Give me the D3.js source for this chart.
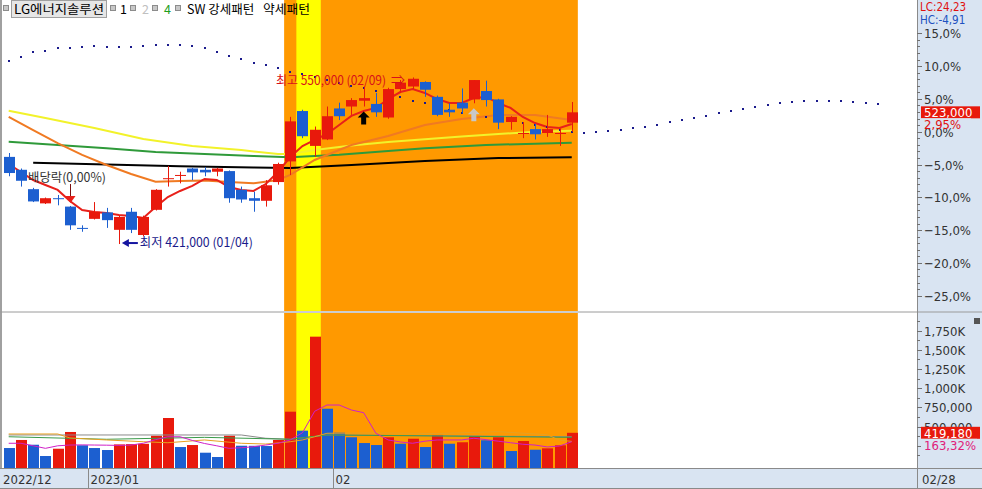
<!DOCTYPE html>
<html><head><meta charset="utf-8">
<script src="https://cdn.jsdelivr.net/npm/d3@7"></script>
<style>body{margin:0;background:#fff;overflow:hidden} svg{display:block}</style>
</head><body>
<svg id="c" width="982" height="489"></svg>
<script>
// ---------------- DATA ----------------
const dates = ["2022-12-21","2022-12-22","2022-12-23","2022-12-26","2022-12-27","2022-12-28","2022-12-29",
"2023-01-02","2023-01-03","2023-01-04","2023-01-05","2023-01-06","2023-01-09","2023-01-10","2023-01-11","2023-01-12","2023-01-13",
"2023-01-16","2023-01-17","2023-01-18","2023-01-19","2023-01-20","2023-01-25","2023-01-26","2023-01-27","2023-01-30","2023-01-31",
"2023-02-01","2023-02-02","2023-02-03","2023-02-06","2023-02-07","2023-02-08","2023-02-09","2023-02-10","2023-02-13","2023-02-14",
"2023-02-15","2023-02-16","2023-02-17","2023-02-20","2023-02-21","2023-02-22","2023-02-23","2023-02-24","2023-02-27","2023-02-28"];
const open  = [488500,478500,463500,452500,456500,450000,433500,440500,445500,432000,446000,428000,447500,471500,474000,479500,478500,477000,477500,463000,456500,454500,469000,485000,524000,497000,502000,526000,527500,532000,529500,519000,541000,543000,546500,535000,525000,530500,533000,539500,533000,515500,506500,510000,507000,506500,515000];
const high  = [491500,479500,464500,457000,459000,450500,435500,453500,449000,443500,449000,443000,463500,481500,477000,480000,480500,480000,478000,465500,461500,470500,484000,519500,525000,512000,527500,530500,534000,543000,538000,542000,548000,550000,547000,536000,530000,541500,548000,547500,533500,520000,515500,514000,521000,510500,531000];
const low   = [473500,465500,453500,452000,451000,432000,430500,440000,433500,421000,429500,427000,447000,465500,468000,470500,473500,473500,453000,453000,446000,450000,467000,474500,503000,488500,501500,517000,521000,527500,519500,518000,538000,541000,535000,520000,519500,522000,530000,527500,510000,509500,503000,502000,504000,497000,508000];
const close = [476000,470000,454000,456500,456000,435500,433000,446000,439500,442000,432000,442000,463000,472000,474500,476500,476500,479500,456500,455500,454500,466500,483000,516000,504500,509500,520000,520000,532500,534000,523000,541000,546000,549000,540500,521000,523000,526000,548000,532500,515000,519500,507000,506000,510000,507000,523000];
const volume = [221000,326000,264000,117000,212000,430000,257000,221000,195000,268000,272000,276000,381000,612000,234000,260000,160000,104000,381000,251000,250000,247000,326000,694000,447000,1671000,733000,421000,361000,286000,260000,361000,277000,342000,234000,391000,277000,296000,378000,322000,361000,182000,312000,199000,217000,256660,419180];

// price moving averages
const ma5 = [483000,476800,470600,466700,462900,454300,447400,445800,445000,443500,442700,441200,449700,457400,462100,466000,471400,470600,465200,462900,462100,467500,476800,488400,496900,501600,506200,513200,520200,524000,526400,533300,538700,541100,538000,533300,530200,530200,534100,534900,530200,526400,519400,514700,511600,510900,514000];
const maOrangeIdx = [0,2,4,6,8,10,12,14,16,18,20,22,23,25,28,31,34,37,40,43,46];
const maOrangeVal = [519400,509300,499200,490000,482200,475200,469300,469800,470200,469000,468000,470600,474500,486100,497700,504700,513200,517800,520900,520900,517100];
const maYellowIdx = [0,3,7,11,15,19,22,23,25,28,31,34,37,40,43,46];
const maYellowVal = [524300,518600,510900,502300,496900,493800,490700,490700,493800,497300,500000,502100,504300,506200,508000,508800];
const maGreenIdx = [0,4,8,12,16,20,23,27,31,34,39,46];
const maGreenVal = [500300,497700,495100,492300,490700,489200,488200,490200,493100,495100,497700,499500];
const maBlackIdx = [2,8,14,20,23,28,34,40,46];
const maBlackVal = [484000,482600,481200,480300,479900,482200,485300,487600,488200];
// dotted projection line (index 0..71)
const dotVal = [562500,565500,569500,570500,572500,572500,573500,574000,573500,573500,573500,574500,575500,575000,575000,574500,572500,569500,567000,564000,561500,559500,557500,554500,552500,550500,548000,545500,543500,541500,539500,537000,534500,532000,530000,527500,525000,522500,521000,519000,517500,516500,515000,513000,511500,509500,508000,507000,508000,508500,509500,511000,511500,513000,515500,517000,518500,520000,522500,524000,525500,527000,528500,530000,531000,532000,532000,532000,532000,531000,530000,529500];
// volume moving averages
const vma5 = [283000,283000,250000,217000,250000,260000,262000,260000,258000,255000,260000,283000,330000,368000,368000,320000,280000,250000,217000,225000,238000,260000,283000,326000,420000,700000,781000,781000,716000,681000,413000,326000,300000,283000,310000,326000,326000,326000,348000,330000,310000,290000,270000,260000,235000,247000,303000];
const vma20Idx = [0,4,5,8,11,13,16,19,21,23,24,25,26,30,35,40,44,45,46];
const vma20Val = [404000,404000,352000,326000,303000,290000,326000,283000,273000,303000,326000,368000,413000,418000,410000,434000,394000,323000,308000];
const vma60Idx = [0,8,16,23,26,35,46];
const vma60Val = [368000,335000,360000,335000,391000,378000,360000];
const vma120Idx = [0,19,21,23,26,46];
const vma120Val = [391000,391000,348000,335000,391000,368000];

const basePrice = 508000;
const pctTicks = [15,10,5,0,-5,-10,-15,-20,-25];
const volTicks = [1750000,1500000,1250000,1000000,750000,500000];
const volTickLabels = ["1,750K","1,500K","1,250K","1,000K","750,000","500,000"];
const highlightRange = [23,46];   // orange zone
const signalRange = [24,25];      // yellow zone
const lowIdx = 9, highIdx = 33, exDivIdx = 5;
const upArrows = [{i:29,color:"#000000"},{i:38,color:"#c8c8c8"}];
const legendItems = [{t:"1",c:"#000"},{t:"2",c:"#c0c0c0"},{t:"4",c:"#1e9e1e"},{t:"SW 강세패턴",c:"#000"}];

// ---------------- LAYOUT ----------------
const svg = d3.select("#c");
const plotL=2, plotR=917, priceTop=0, priceBot=311, volTop=313, volBot=468;
const RED="#e8190c", BLUE="#1c5fd0";
const KF="'Noto Sans CJK KR','Noto Sans',sans-serif";
const NF="'Liberation Sans Narrow','DejaVu Sans Condensed','Liberation Sans',sans-serif";
const N = close.length;

const x = d3.scaleLinear().domain([0,1]).range([8.7,20.94]);
const bw = 11;
const yP = d3.scaleLinear().domain([basePrice*0.75, basePrice*1.15]).range([295.7,33.3]);
const yV = d3.scaleLinear().domain([0,1750000]).range([465,330.6]);

// backgrounds
svg.append("rect").attr("x",0).attr("y",0).attr("width",982).attr("height",489).attr("fill","#fff");
const axBg="#d9e4f2";
svg.append("rect").attr("x",plotR).attr("y",0).attr("width",982-plotR).attr("height",volBot).attr("fill",axBg);
svg.append("rect").attr("x",0).attr("y",volBot).attr("width",982).attr("height",489-volBot).attr("fill",axBg);
svg.append("rect").attr("x",0).attr("y",0).attr("width",2).attr("height",volBot).attr("fill","#a0a0a0");

const hx0 = x(highlightRange[0])-bw/2-0.6, hx1 = x(highlightRange[1])+bw/2+0.6;
const sx0 = x(signalRange[0])-bw/2-0.6, sx1 = x(signalRange[1])+bw/2+0.6;
[[priceTop,priceBot],[volTop,volBot]].forEach(([a,b])=>{
  svg.append("rect").attr("x",hx0).attr("y",a).attr("width",hx1-hx0).attr("height",b-a).attr("fill","#ff9900");
  svg.append("rect").attr("x",sx0).attr("y",a).attr("width",sx1-sx0).attr("height",b-a).attr("fill","#ffff00");
});
// panel separator
svg.append("line").attr("x1",0).attr("x2",982).attr("y1",312).attr("y2",312).attr("stroke","#9a9a9a");
svg.append("line").attr("x1",plotR+0.5).attr("x2",plotR+0.5).attr("y1",0).attr("y2",489).attr("stroke","#8a8a8a");
svg.append("line").attr("x1",0).attr("x2",982).attr("y1",volBot+0.5).attr("y2",volBot+0.5).attr("stroke","#8a8a8a");
svg.append("line").attr("x1",0).attr("x2",982).attr("y1",488.5).attr("y2",488.5).attr("stroke","#8a8a8a");

// ---------------- PRICE PANEL ----------------
const g = svg.append("g");
const lineP = d3.line().x(d=>x(d[0])).y(d=>yP(d[1]));
const pairs = (idx,val)=>idx.map((k,j)=>[k,val[j]]);
g.append("path").attr("d",lineP(pairs(maBlackIdx,maBlackVal))).attr("fill","none").attr("stroke","#000").attr("stroke-width",2);
g.append("path").attr("d",lineP(pairs(maGreenIdx,maGreenVal))).attr("fill","none").attr("stroke","#2f9a3a").attr("stroke-width",2);
g.append("path").attr("d",lineP(pairs(maYellowIdx,maYellowVal))).attr("fill","none").attr("stroke","#f2f22a").attr("stroke-width",2);
g.append("path").attr("d",lineP(pairs(maOrangeIdx,maOrangeVal))).attr("fill","none").attr("stroke","#f07a22").attr("stroke-width",2);
g.append("path").attr("d",lineP(ma5.map((v,i)=>[i,v]))).attr("fill","none").attr("stroke","#e8201a").attr("stroke-width",2);

// dotted projection
g.selectAll("rect.dot").data(dotVal).join("rect").attr("class","dot")
  .attr("x",(d,i)=>Math.round(x(i))-1).attr("y",d=>Math.round(yP(d))-1).attr("width",2).attr("height",2).attr("fill","#1a1a8c");

// candles
const idx = d3.range(N);
const cg = g.selectAll("g.candle").data(idx).join("g").attr("class","candle");
cg.each(function(i){
  const s = d3.select(this);
  const up = close[i] >= open[i];
  const col = up ? RED : BLUE;
  const cx = Math.round(x(i))+0.5;
  s.append("line").attr("x1",cx).attr("x2",cx).attr("y1",yP(high[i])).attr("y2",yP(low[i])).attr("stroke",col);
  const top = yP(Math.max(open[i],close[i])), bot = yP(Math.min(open[i],close[i]));
  s.append("rect").attr("x",Math.round(x(i))-5).attr("width",bw).attr("y",top).attr("height",Math.max(1,bot-top)).attr("fill",col);
});

// up arrows
upArrows.forEach(a=>{
  const cx = x(a.i), ty = yP(low[a.i]) + 5;
  const p = [[cx,ty],[cx+6,ty+6],[cx+2.5,ty+6],[cx+2.5,ty+13],[cx-2.5,ty+13],[cx-2.5,ty+6],[cx-6,ty+6]];
  g.append("path").attr("d","M"+p.map(q=>q.join(",")).join("L")+"Z").attr("fill",a.color);
});

// ex-dividend annotation
{
  const cx = Math.round(x(exDivIdx))+0.5;
  g.append("text").attr("x",28).attr("y",182).attr("font-family",KF).attr("font-size",12.5).attr("fill","#333")
    .attr("textLength",78).attr("lengthAdjust","spacingAndGlyphs").text("배당락(0,00%)");
  g.append("line").attr("x1",cx).attr("x2",cx).attr("y1",184).attr("y2",197).attr("stroke","#7a1010");
  g.append("path").attr("d",`M${cx-5},196L${cx+5},196L${cx},203Z`).attr("fill","#e8201a");
}
// lowest annotation
{
  const ly = yP(low[lowIdx]);
  const ax0 = x(lowIdx)+3;
  g.append("line").attr("x1",ax0+4).attr("x2",ax0+16).attr("y1",ly-1).attr("y2",ly-1).attr("stroke","#1414a0").attr("stroke-width",2);
  g.append("path").attr("d",`M${ax0},${ly-1}L${ax0+7},${ly-5}L${ax0+7},${ly+3}Z`).attr("fill","#1414a0");
  g.append("text").attr("x",ax0+18).attr("y",ly+3).attr("font-family",KF).attr("font-size",12.5).attr("fill","#1a1a8a")
    .attr("textLength",113).attr("lengthAdjust","spacingAndGlyphs").text("최저 421,000 (01/04)");
}
// highest annotation
{
  const hy = yP(high[highIdx]);
  g.append("text").attr("x",276).attr("y",hy+8).attr("font-family",KF).attr("font-size",12.5).attr("fill","#d8101a")
    .attr("textLength",110).attr("lengthAdjust","spacingAndGlyphs").text("최고 550,000 (02/09)");
  g.append("text").attr("x",391).attr("y",hy+8).attr("font-family",KF).attr("font-size",14).attr("fill","#d8101a").text("⇒");
}

// ---------------- VOLUME PANEL ----------------
const lineV = d3.line().x(d=>x(d[0])).y(d=>yV(d[1]));
g.selectAll("rect.vol").data(volume).join("rect").attr("class","vol")
  .attr("x",(d,i)=>Math.round(x(i))-5).attr("width",bw)
  .attr("y",d=>yV(d)).attr("height",d=>volBot-yV(d))
  .attr("fill",(d,i)=> i>0 && d>volume[i-1] ? RED : BLUE);
g.append("path").attr("d",lineV(pairs(vma120Idx,vma120Val))).attr("fill","none").attr("stroke","#8a8a8a").attr("stroke-width",1);
g.append("path").attr("d",lineV(pairs(vma60Idx,vma60Val))).attr("fill","none").attr("stroke","#3a9a4a").attr("stroke-width",1);
g.append("path").attr("d",lineV(pairs(vma20Idx,vma20Val))).attr("fill","none").attr("stroke","#e8a020").attr("stroke-width",1);
g.append("path").attr("d",lineV(vma5.map((v,i)=>[i,v]))).attr("fill","none").attr("stroke","#d020c8").attr("stroke-width",1);

// ---------------- LEGEND ----------------
const lg = svg.append("g").attr("font-family",KF).attr("font-size",12.5);
const sq = (xx)=>lg.append("rect").attr("x",xx+0.5).attr("y",5.5).attr("width",5).attr("height",5).attr("fill","#c8c8c8").attr("stroke","#8c8c8c");
sq(3);
lg.append("rect").attr("x",11.5).attr("y",0.5).attr("width",95).attr("height",17).attr("fill","#e6e6e6").attr("stroke","#a0a0a0");
lg.append("text").attr("x",14).attr("y",14).attr("fill","#000").attr("textLength",90).attr("lengthAdjust","spacingAndGlyphs").text("LG에너지솔루션");
const lx = [110,130,152,175];
const tx = [120,142,164,187];
legendItems.forEach((it,k)=>{ sq(lx[k]); lg.append("text").attr("x",tx[k]).attr("y",14).attr("fill",it.c).text(it.t); });
lg.append("text").attr("x",263).attr("y",14).attr("fill","#000").attr("textLength",47).attr("lengthAdjust","spacingAndGlyphs").text("약세패턴");

// ---------------- RIGHT AXIS ----------------
const ax = svg.append("g").attr("font-family",NF).attr("font-size",13);
d3.range(-25,16,1).forEach(p=>{
  const yy = Math.round(yP(basePrice*(1+p/100)))+0.5;
  ax.append("line").attr("x1",plotR).attr("x2",plotR+(p%5===0?5:3)).attr("y1",yy).attr("y2",yy).attr("stroke","#707070");
});
pctTicks.forEach(p=>{
  ax.append("text").attr("x",924).attr("y",yP(basePrice*(1+p/100))+5).attr("fill","#333")
    .text(d3.format(".1f")(p).replace(".",",")+"%");
});
d3.range(125000,1875001,125000).forEach(v=>{
  const yy = Math.round(yV(v))+0.5;
  if (yy<volTop+2) return;
  ax.append("line").attr("x1",plotR).attr("x2",plotR+(v%250000===0?5:3)).attr("y1",yy).attr("y2",yy).attr("stroke","#707070");
});
volTicks.forEach((v,k)=>{
  ax.append("text").attr("x",924).attr("y",yV(v)+5).attr("fill","#333").text(volTickLabels[k]);
});
// info labels
ax.append("text").attr("x",920).attr("y",11).attr("font-size",11.5).attr("fill","#e01010").text("LC:24,23");
ax.append("text").attr("x",920).attr("y",24).attr("font-size",11.5).attr("fill","#2050c0").text("HC:-4,91");
const lastY = yP(close[N-1]);
ax.append("rect").attr("x",921).attr("y",lastY-6).attr("width",59).attr("height",12).attr("fill","#e8190c");
ax.append("text").attr("x",924).attr("y",lastY+5).attr("fill","#fff").text(d3.format(",")(close[N-1]));
ax.append("rect").attr("x",921).attr("y",lastY+6).attr("width",50).attr("height",8).attr("fill",axBg);
ax.append("text").attr("x",924).attr("y",lastY+17).attr("fill","#e01010").text("2,95%");
const lastV = yV(volume[N-1]);
ax.append("rect").attr("x",921).attr("y",lastV-6).attr("width",59).attr("height",12).attr("fill","#e8190c");
ax.append("text").attr("x",924).attr("y",lastV+5).attr("fill","#fff").text(d3.format(",")(volume[N-1]));
ax.append("rect").attr("x",921).attr("y",lastV+6).attr("width",56).attr("height",12).attr("fill",axBg);
ax.append("text").attr("x",924).attr("y",lastV+17).attr("fill","#e0207a").text("163,32%");
// small close icon
ax.append("rect").attr("x",974).attr("y",318).attr("width",6).attr("height",6).attr("fill","#555");

// ---------------- DATE AXIS ----------------
const da = svg.append("g").attr("font-family",NF).attr("font-size",13).attr("fill","#333");
let prevM = null;
dates.forEach((d,i)=>{
  const m = d.slice(0,7);
  if (m!==prevM){
    const xx = Math.round(x(i)-6.1)+0.5;
    let lab;
    if (prevM===null) lab = d.slice(0,4)+"/"+d.slice(5,7);
    else if (d.slice(0,4)!==prevM.slice(0,4)) lab = d.slice(0,4)+"/"+d.slice(5,7);
    else lab = d.slice(5,7);
    if (prevM!==null) da.append("line").attr("x1",xx).attr("x2",xx).attr("y1",volBot).attr("y2",488).attr("stroke","#8a8a8a");
    da.append("text").attr("x",prevM===null?3:xx+2).attr("y",484).text(lab);
    prevM = m;
  }
});
da.append("text").attr("x",922).attr("y",484).text(dates[N-1].slice(5,7)+"/"+dates[N-1].slice(8,10));
</script>
</body></html>
